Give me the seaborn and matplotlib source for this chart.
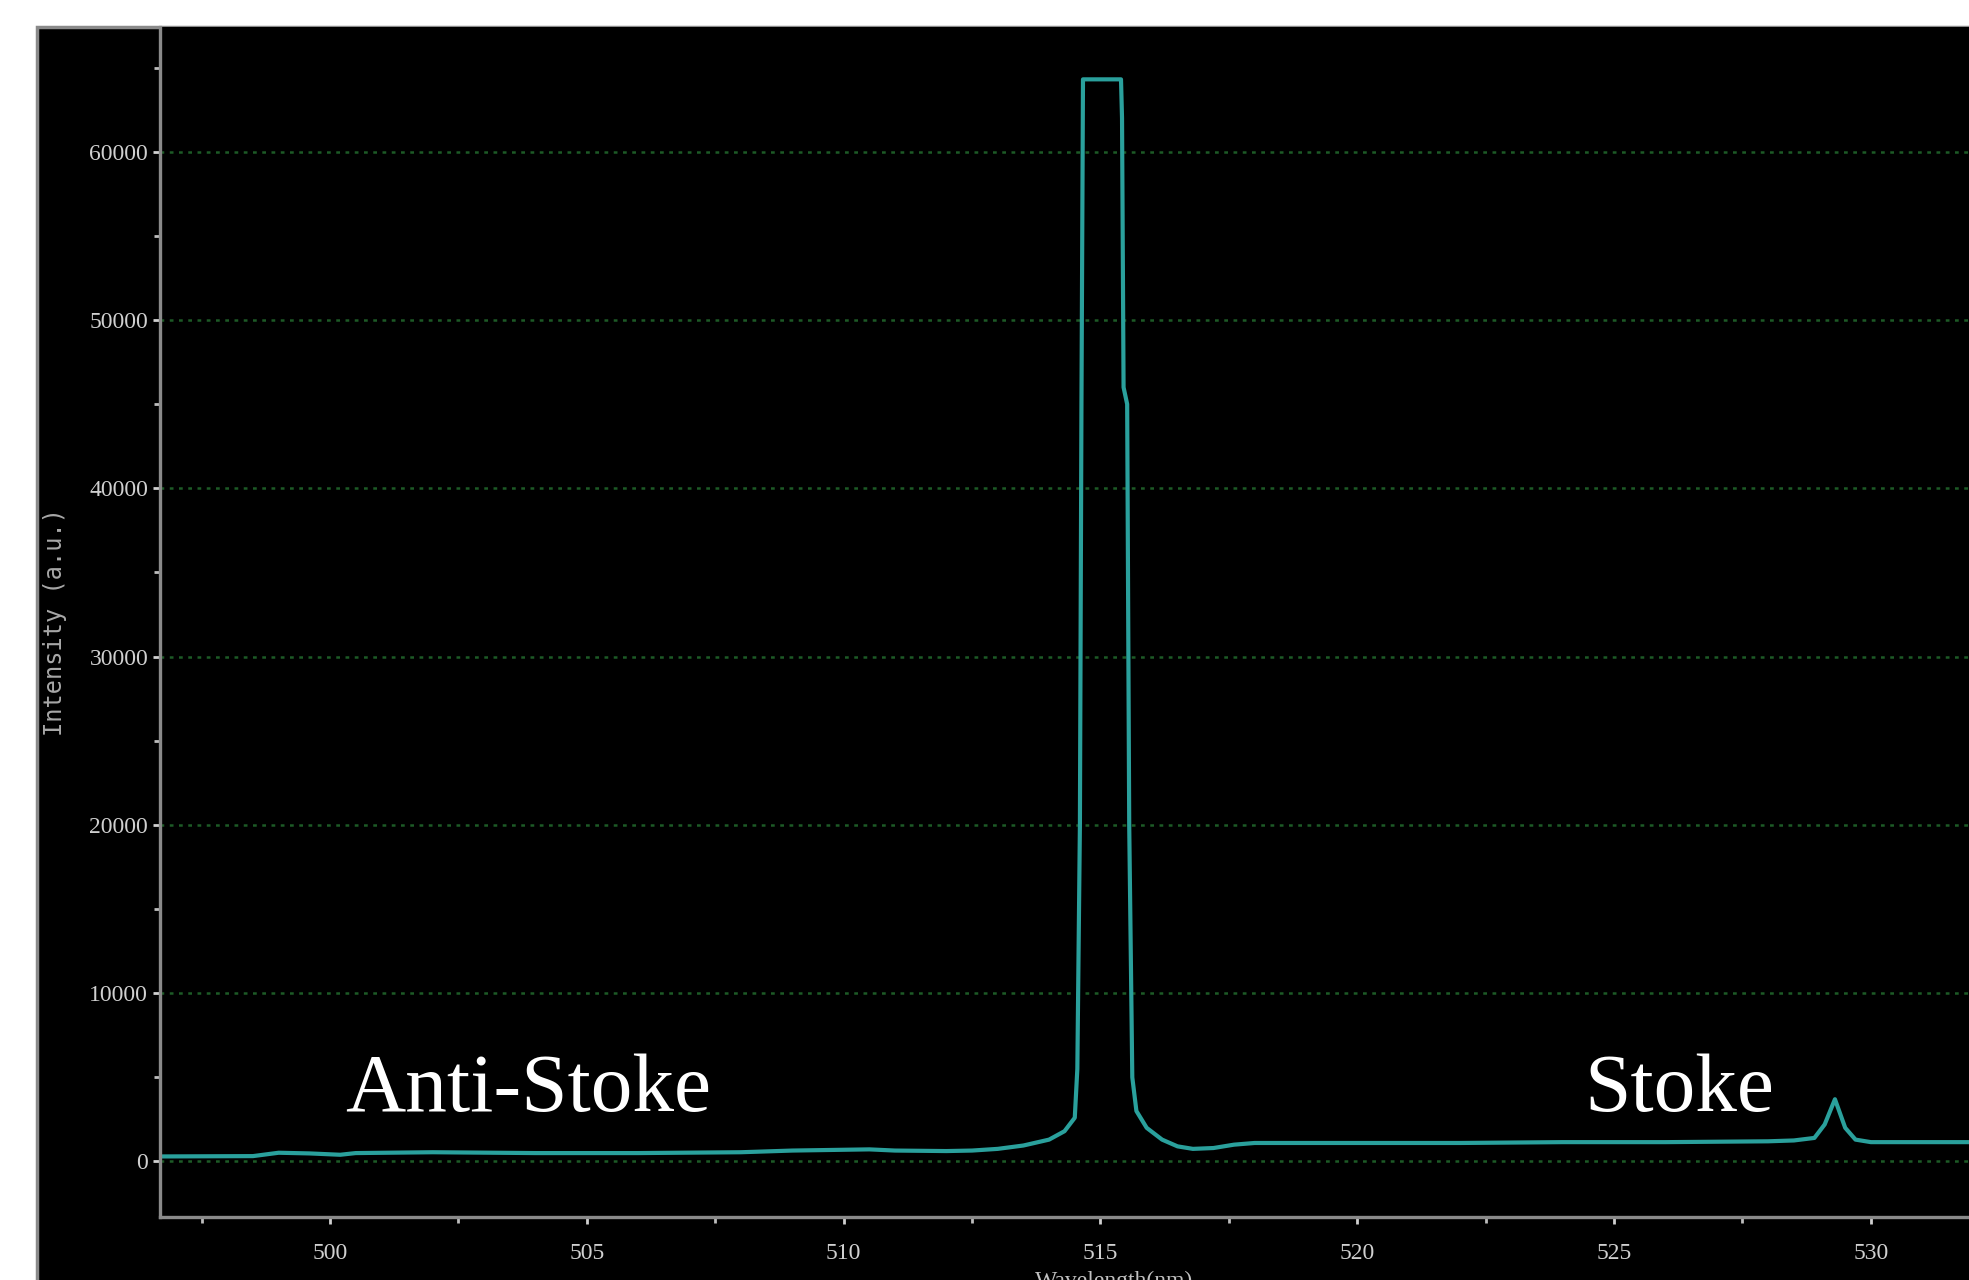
import matplotlib
matplotlib.use("Agg")
import matplotlib.pyplot as plt
import seaborn as sns
import pandas as pd
from matplotlib.patches import Rectangle
from matplotlib.ticker import MultipleLocator

# spectrum (wavelength in nm, intensity in a.u.)
wavelength = [496.7, 498.5, 499.0, 499.6, 500.2, 500.5, 502.0, 504.0, 506.0, 508.0,
              509.0, 510.5, 511.0, 512.0, 512.5, 513.0, 513.5, 514.0, 514.3, 514.5,
              514.55, 514.6, 514.63, 514.66, 515.40, 515.42, 515.45, 515.52, 515.56,
              515.62, 515.7, 515.9, 516.2, 516.5, 516.8, 517.2, 517.6, 518.0, 520.0,
              522.0, 524.0, 526.0, 528.0, 528.5, 528.9, 529.1, 529.3, 529.5, 529.7,
              530.0, 532.0]
intensity = [300, 320, 520, 480, 400, 500, 550, 500, 500, 550,
             650, 720, 650, 620, 650, 750, 950, 1300, 1800, 2600,
             5500, 20000, 45000, 64300, 64300, 62000, 46000, 45000, 20000,
             5000, 3000, 2000, 1300, 900, 750, 800, 1000, 1100, 1100,
             1100, 1150, 1150, 1200, 1250, 1400, 2200, 3700, 2000, 1300,
             1150, 1150]

y_ticks = [0, 10000, 20000, 30000, 40000, 50000, 60000]
x_ticks = [500, 505, 510, 515, 520, 525, 530]

df = pd.DataFrame({"Wavelength": wavelength, "Intensity": intensity})

sns.set_theme(style="dark")
plt.rcParams["font.family"] = ["Liberation Serif", "DejaVu Serif"]

W, H = 1969, 1280
fig = plt.figure(figsize=(W / 100, H / 100), dpi=100)
fig.patch.set_facecolor("white")

# black screenshot panel with grey border (behind the axes)
fig.patches.append(Rectangle((37 / W, -0.01), 1.1, (H - 27) / H + 0.01,
                             transform=fig.transFigure, facecolor="black",
                             edgecolor="#8a8a8a", linewidth=2.5, zorder=-5))

ax = fig.add_axes([160 / W, (H - 1217) / H, 1 - 160 / W, (1217 - 27) / H])
ax.set_facecolor("black")

sns.lineplot(data=df, x="Wavelength", y="Intensity", ax=ax, estimator=None,
             color="#2aa09c", linewidth=3, sort=False)

ax.set_xlim(496.69, 531.91)
ax.set_ylim(-3298, 67410)

ax.set_yticks(y_ticks)
ax.set_xticks(x_ticks)
ax.yaxis.set_minor_locator(MultipleLocator(5000))
ax.xaxis.set_minor_locator(MultipleLocator(2.5))
ax.tick_params(axis="both", which="major", colors="#d0d0d0", labelsize=17,
               length=5, width=2, direction="out", left=True, bottom=True)
ax.tick_params(axis="both", which="minor", color="#bdbdbd", length=4, width=2,
               direction="out", left=True, bottom=True)
ax.tick_params(axis="x", pad=14)

ax.grid(False)
ax.yaxis.grid(True, which="major", color="#1d5a26", linestyle=(0, (1.5, 2.2)), linewidth=1.8)

for side in ["top", "right"]:
    ax.spines[side].set_visible(False)
for side in ["left", "bottom"]:
    ax.spines[side].set_visible(True)
    ax.spines[side].set_color("#8a8a8a")
    ax.spines[side].set_linewidth(2.4)

ax.set_xlabel("")
ax.set_ylabel("")

ax.text(500.29, 2985, "Anti-Stoke", color="white", fontsize=60, va="baseline", ha="left")
ax.text(524.43, 2985, "Stoke", color="white", fontsize=60, va="baseline", ha="left")

fig.text(55 / W, 1 - 622 / H, "Intensity (a.u.)", rotation=90, color="#a8a8a8",
         fontsize=17, ha="center", va="center", family="DejaVu Sans Mono")
fig.text(1114 / W, 9 / H, "Wavelength(nm)", color="#c0c0c0", fontsize=17,
         ha="center", va="top")

fig.savefig("out.png", dpi=100, facecolor=fig.get_facecolor())
